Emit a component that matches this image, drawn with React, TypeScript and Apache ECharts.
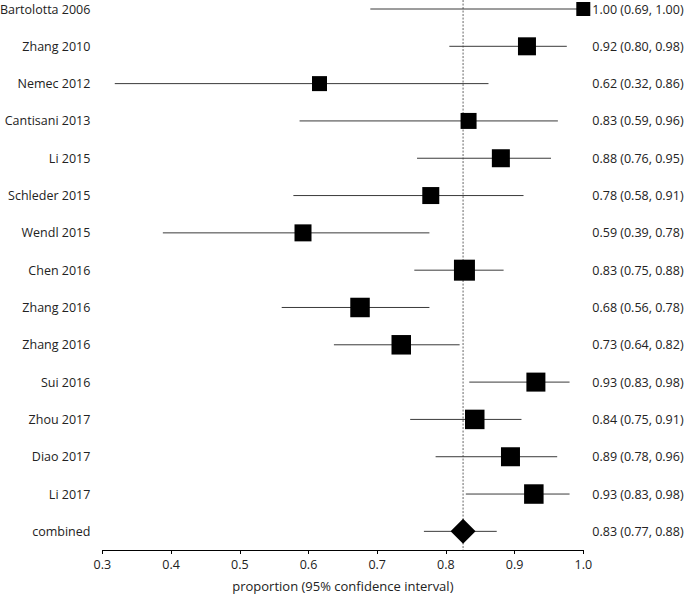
import React, { useEffect, useRef } from "react";
import * as echarts from "echarts";

const studies = [
  "Bartolotta 2006", "Zhang 2010", "Nemec 2012", "Cantisani 2013", "Li 2015",
  "Schleder 2015", "Wendl 2015", "Chen 2016", "Zhang 2016", "Zhang 2016",
  "Sui 2016", "Zhou 2017", "Diao 2017", "Li 2017", "combined",
];
// point estimates as drawn (unrounded)
const estimates = [1.0, 0.918, 0.616, 0.833, 0.88, 0.778, 0.592, 0.827, 0.675, 0.735, 0.931, 0.842, 0.894, 0.928, 0.825];
const lower = [0.69, 0.805, 0.318, 0.587, 0.758, 0.578, 0.388, 0.754, 0.561, 0.637, 0.834, 0.748, 0.785, 0.829, 0.768];
const upper = [1.0, 0.976, 0.862, 0.963, 0.953, 0.913, 0.776, 0.884, 0.776, 0.82, 0.98, 0.91, 0.962, 0.98, 0.874];
// printed summary labels
const ciLabels = [
  "1.00 (0.69, 1.00)", "0.92 (0.80, 0.98)", "0.62 (0.32, 0.86)", "0.83 (0.59, 0.96)",
  "0.88 (0.76, 0.95)", "0.78 (0.58, 0.91)", "0.59 (0.39, 0.78)", "0.83 (0.75, 0.88)",
  "0.68 (0.56, 0.78)", "0.73 (0.64, 0.82)", "0.93 (0.83, 0.98)", "0.84 (0.75, 0.91)",
  "0.89 (0.78, 0.96)", "0.93 (0.83, 0.98)", "0.83 (0.77, 0.88)",
];
// relative study weights (marker size in px)
const weights = [14, 18, 15, 16, 18, 17, 17, 21, 19.5, 19.5, 19, 19.5, 19, 19.5, 25];
const pooled = 0.825;
const xTicks = [0.3, 0.4, 0.5, 0.6, 0.7, 0.8, 0.9, 1.0];

export default function App() {
  const ref = useRef<HTMLDivElement>(null);
  useEffect(() => {
    if (!ref.current) return;
    const chart = echarts.init(ref.current, undefined, { renderer: "svg" });
    const font = "Open Sans";
    const n = studies.length;
    const data = studies.map((_, i) => [estimates[i], i, lower[i], upper[i], weights[i]]);
    const yAxisBase = {
      type: "value" as const,
      min: 0,
      max: 14.5,
      interval: 1,
      inverse: true,
      splitLine: { show: false },
      axisLine: { show: false },
      axisTick: { show: false },
    };
    chart.setOption({
      animation: false,
      grid: { left: 102.4, right: 101.7, top: 9, bottom: 46, containLabel: false, outerBoundsMode: "none" },
      xAxis: {
        type: "value",
        min: 0.3,
        max: 1.0,
        interval: 0.1,
        name: "proportion (95% confidence interval)",
        nameLocation: "middle",
        nameGap: 28,
        nameTextStyle: { fontFamily: font, fontSize: 13, color: "#222", lineHeight: 15 },
        axisLine: { show: true, onZero: false, lineStyle: { color: "#000", width: 1 } },
        axisTick: { show: true, length: 4, lineStyle: { color: "#000" } },
        axisLabel: {
          fontFamily: font,
          fontSize: 12.5,
          color: "#222",
          margin: 8,
          formatter: (v: number) => {
            const t = xTicks.find((x) => Math.abs(x - v) < 1e-6);
            return t === undefined ? "" : t.toFixed(1);
          },
        },
        splitLine: { show: false },
      },
      yAxis: [
        {
          ...yAxisBase,
          position: "left",
          axisLabel: {
            fontFamily: font,
            fontSize: 12.5,
            color: "#222",
            margin: 12,
            showMaxLabel: false,
            formatter: (v: number) => (Number.isInteger(v) && v < n ? studies[v] : ""),
          },
        },
        {
          ...yAxisBase,
          position: "right",
          axisLabel: {
            fontFamily: font,
            fontSize: 12.5,
            color: "#222",
            margin: 9,
            showMaxLabel: false,
            formatter: (v: number) => (Number.isInteger(v) && v < n ? ciLabels[v] : ""),
          },
        },
      ],
      series: [
        {
          type: "custom",
          clip: false,
          data: [[pooled]],
          renderItem: (params: any, api: any) => {
            const top = api.coord([api.value(0), -0.24]);
            const bot = api.coord([api.value(0), 14.5]);
            return {
              type: "line",
              shape: { x1: top[0], y1: top[1], x2: bot[0], y2: bot[1] },
              style: { stroke: "#666", lineWidth: 1, lineDash: [2, 1.5] },
            };
          },
        },
        {
          type: "custom",
          clip: false,
          data,
          renderItem: (params: any, api: any) => {
            const idx = api.value(1);
            const c = api.coord([api.value(0), idx]);
            const lo = api.coord([api.value(2), idx]);
            const hi = api.coord([api.value(3), idx]);
            const s = api.value(4);
            const children: any[] = [
              {
                type: "line",
                shape: { x1: lo[0], y1: lo[1], x2: hi[0], y2: hi[1] },
                style: { stroke: "#3a3a3a", lineWidth: 1 },
              },
            ];
            if (idx === n - 1) {
              const h = s / 2;
              children.push({
                type: "polygon",
                shape: { points: [[c[0] - h, c[1]], [c[0], c[1] - h], [c[0] + h, c[1]], [c[0], c[1] + h]] },
                style: { fill: "#000" },
              });
            } else {
              children.push({
                type: "rect",
                shape: { x: c[0] - s / 2, y: c[1] - s / 2, width: s, height: s },
                style: { fill: "#000" },
              });
            }
            return { type: "group", children };
          },
        },
      ],
    });
    return () => chart.dispose();
  }, []);
  return <div ref={ref} style={{ width: 685, height: 596, position: "absolute", left: 0, top: 0 }} />;
}
